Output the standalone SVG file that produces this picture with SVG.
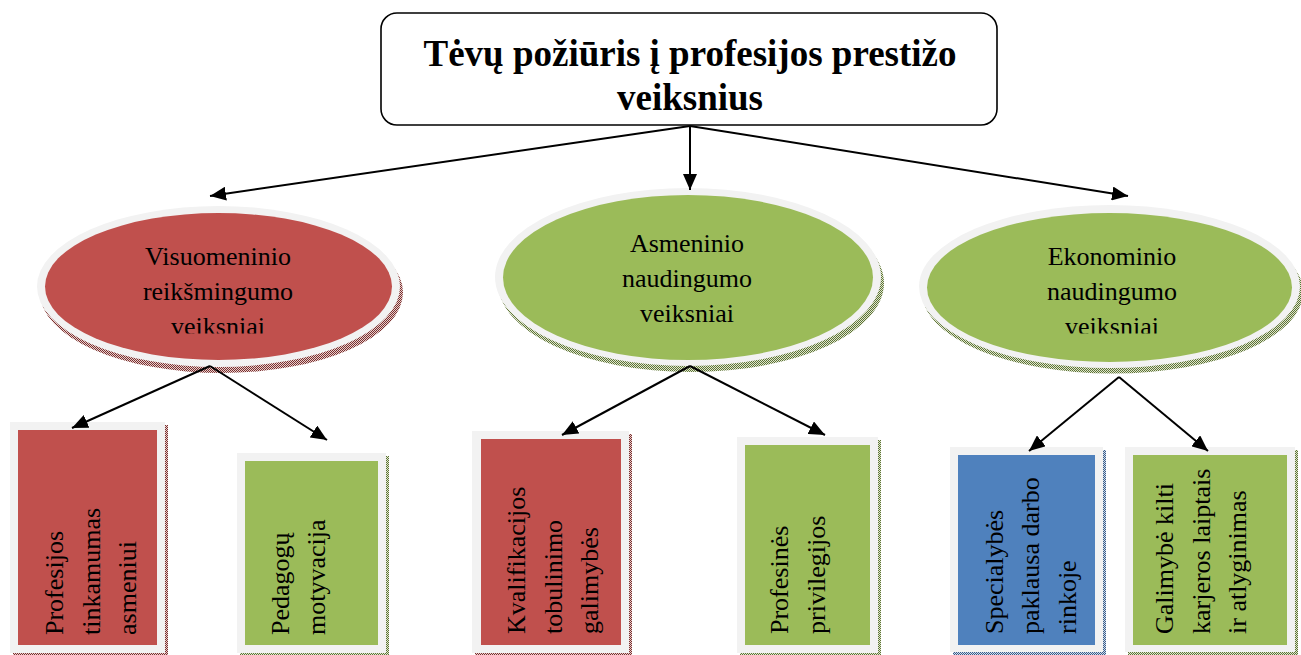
<svg xmlns="http://www.w3.org/2000/svg" width="1301" height="655" viewBox="0 0 1301 655">
<style>
  .t { font-family: "Liberation Serif", "Times New Roman", serif; fill: #000; }
  .title { font-size: 37px; font-weight: bold; text-anchor: middle; }
  .el { font-size: 26px; text-anchor: middle; }
  .rt { font-size: 26px; }
  .ring { fill: #F2F2F2; }
  .red { fill: #C0504D; }
  .green { fill: #9BBB59; }
  .blue { fill: #4F81BD; }
  .conn line { stroke: #000; stroke-width: 2; marker-end: url(#ah); }
</style>
<defs>
  <marker id="ah" markerUnits="userSpaceOnUse" markerWidth="18" markerHeight="14" refX="16" refY="7" orient="auto">
    <path d="M0,0 L16,7 L0,14 z" fill="#000"/>
  </marker>
  <pattern id="pr" width="2" height="2" patternUnits="userSpaceOnUse">
    <rect width="2" height="2" fill="#e8d0cf"/><rect width="1" height="1" fill="#7a302e"/><rect x="1" y="1" width="1" height="1" fill="#7a302e"/>
  </pattern>
  <pattern id="pg" width="2" height="2" patternUnits="userSpaceOnUse">
    <rect width="2" height="2" fill="#dfe8cf"/><rect width="1" height="1" fill="#5e7136"/><rect x="1" y="1" width="1" height="1" fill="#5e7136"/>
  </pattern>
  <pattern id="pb" width="2" height="2" patternUnits="userSpaceOnUse">
    <rect width="2" height="2" fill="#d3dcea"/><rect width="1" height="1" fill="#385d8a"/><rect x="1" y="1" width="1" height="1" fill="#385d8a"/>
  </pattern>
  <clipPath id="clipL"><rect x="40" y="230" width="360" height="103.5"/></clipPath>
  <clipPath id="clipR"><rect x="930" y="230" width="371" height="103.5"/></clipPath>
</defs>

<g id="title">
  <rect x="381" y="13" width="616" height="112" rx="16" ry="16" fill="#fff" stroke="#000" stroke-width="1.6"/>
  <text class="t title" x="690" y="66">Tėvų požiūris į profesijos prestižo</text>
  <text class="t title" x="690" y="110">veiksnius</text>
</g>

<g id="ellipse-visuomeninio">
  <ellipse cx="221.5" cy="292.5" rx="181.5" ry="80.5" fill="url(#pr)"/>
  <ellipse class="ring" cx="218.5" cy="286.5" rx="181.5" ry="80.5"/>
  <ellipse class="red" cx="218.5" cy="286.5" rx="173.5" ry="73.5"/>
  <g clip-path="url(#clipL)">
    <text class="t el" x="218" y="265">Visuomeninio</text>
    <text class="t el" x="218" y="300">reikšmingumo</text>
    <text class="t el" x="218" y="335">veiksniai</text>
  </g>
</g>

<g id="ellipse-asmeninio">
  <ellipse cx="691" cy="283" rx="193" ry="89" fill="url(#pg)"/>
  <ellipse class="ring" cx="688" cy="277" rx="193" ry="89"/>
  <ellipse class="green" cx="688" cy="277.5" rx="185" ry="82.5"/>
  <text class="t el" x="687" y="252">Asmeninio</text>
  <text class="t el" x="687" y="287">naudingumo</text>
  <text class="t el" x="687" y="322">veiksniai</text>
</g>

<g id="ellipse-ekonominio">
  <ellipse cx="1112.5" cy="292" rx="190.5" ry="81.5" fill="url(#pg)"/>
  <ellipse class="ring" cx="1109.5" cy="286.5" rx="190.5" ry="81.5"/>
  <ellipse class="green" cx="1109.5" cy="287.5" rx="182.5" ry="74.5"/>
  <g clip-path="url(#clipR)">
    <text class="t el" x="1112" y="265">Ekonominio</text>
    <text class="t el" x="1112" y="300">naudingumo</text>
    <text class="t el" x="1112" y="335">veiksniai</text>
  </g>
</g>

<g id="box-profesijos-tinkamumas">
  <rect x="13" y="425" width="155" height="231" fill="url(#pr)"/>
  <rect class="ring" x="10" y="422" width="155" height="231"/>
  <rect class="red" x="18" y="430" width="139" height="215"/>
  <text class="t rt" transform="translate(63,635) rotate(-90)">Profesijos</text>
  <text class="t rt" transform="translate(99.5,635) rotate(-90)">tinkamumas</text>
  <text class="t rt" transform="translate(136,635) rotate(-90)">asmeniui</text>
</g>

<g id="box-pedagogu-motyvacija">
  <rect x="240" y="456" width="149" height="200" fill="url(#pg)"/>
  <rect class="ring" x="237" y="453" width="149" height="200"/>
  <rect class="green" x="245" y="461" width="133" height="184"/>
  <text class="t rt" transform="translate(289,635) rotate(-90)">Pedagogų</text>
  <text class="t rt" transform="translate(325,635) rotate(-90)">motyvacija</text>
</g>

<g id="box-kvalifikacijos">
  <rect x="475" y="434" width="157" height="222" fill="url(#pr)"/>
  <rect class="ring" x="472" y="431" width="157" height="222"/>
  <rect class="red" x="481" y="439" width="140" height="206"/>
  <text class="t rt" transform="translate(525,634) rotate(-90)">Kvalifikacijos</text>
  <text class="t rt" transform="translate(562,634) rotate(-90)">tobulinimo</text>
  <text class="t rt" transform="translate(598,634) rotate(-90)">galimybės</text>
</g>

<g id="box-profesines-privilegijos">
  <rect x="740" y="440" width="141" height="216" fill="url(#pg)"/>
  <rect class="ring" x="737" y="437" width="141" height="216"/>
  <rect class="green" x="745" y="445" width="125" height="200"/>
  <text class="t rt" transform="translate(788,634) rotate(-90)">Profesinės</text>
  <text class="t rt" transform="translate(825,634) rotate(-90)">privilegijos</text>
</g>

<g id="box-specialybes-paklausa">
  <rect x="953" y="450" width="153" height="205" fill="url(#pb)"/>
  <rect class="ring" x="950" y="447" width="153" height="205"/>
  <rect class="blue" x="958" y="455" width="137" height="190"/>
  <text class="t rt" transform="translate(1003,634) rotate(-90)">Specialybės</text>
  <text class="t rt" transform="translate(1039,634) rotate(-90)">paklausa darbo</text>
  <text class="t rt" transform="translate(1076,634) rotate(-90)">rinkoje</text>
</g>

<g id="box-galimybe-kilti">
  <rect x="1128" y="450" width="170" height="205" fill="url(#pg)"/>
  <rect class="ring" x="1125" y="447" width="170" height="205"/>
  <rect class="green" x="1133" y="455" width="154" height="190"/>
  <text class="t rt" transform="translate(1173,634) rotate(-90)">Galimybė kilti</text>
  <text class="t rt" transform="translate(1210,634) rotate(-90)">karjeros laiptais</text>
  <text class="t rt" transform="translate(1246,634) rotate(-90)">ir atlyginimas</text>
</g>

<g id="connectors" class="conn">
  <line x1="690" y1="126" x2="210" y2="196"/>
  <line x1="690" y1="126" x2="690" y2="190"/>
  <line x1="690" y1="126" x2="1128" y2="196"/>
  <line x1="210" y1="366" x2="72" y2="428"/>
  <line x1="210" y1="366" x2="327" y2="440"/>
  <line x1="690" y1="366" x2="562" y2="435"/>
  <line x1="690" y1="366" x2="825" y2="435"/>
  <line x1="1119" y1="377" x2="1029" y2="451"/>
  <line x1="1119" y1="377" x2="1208" y2="451"/>
</g>
</svg>
